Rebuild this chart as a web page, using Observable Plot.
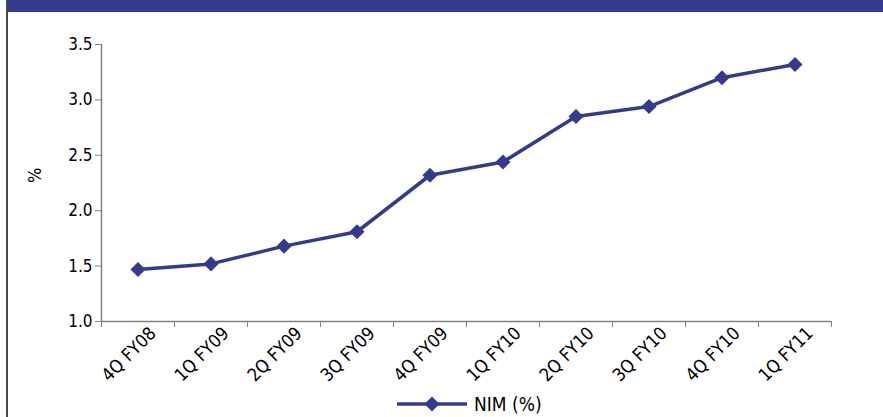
<!DOCTYPE html>
<html>
<head>
<meta charset="utf-8">
<script src="https://cdn.jsdelivr.net/npm/d3@7"></script>
<script src="https://cdn.jsdelivr.net/npm/@observablehq/plot@0.6"></script>
<style>
  html, body { margin: 0; padding: 0; background: #fff; }
  #wrap { position: relative; width: 883px; height: 417px; overflow: hidden;
          font-family: "DejaVu Sans Condensed", "Liberation Sans Narrow", sans-serif; }
  #band { margin-left: 6px; height: 12px; background: #343a8c; }
  #edge { position: absolute; left: 6px; top: 0; width: 1.5px; height: 417px; background: #4a4a4a; }
  #chart svg { display: block; }
  #legend { position: relative; height: 30px; }
  #legend .item { position: absolute; left: 396px; top: 6px; display: flex; align-items: center; gap: 6px;
                  font-size: 19px; color: #000; }
</style>
</head>
<body>
<div id="wrap">
  <div id="band"></div>
  <div id="chart"></div>
  <div id="legend"></div>
  <div id="edge"></div>
</div>
<script>
// Net interest margin by quarter
const quarters = ["4Q FY08", "1Q FY09", "2Q FY09", "3Q FY09", "4Q FY09",
                  "1Q FY10", "2Q FY10", "3Q FY10", "4Q FY10", "1Q FY11"];
const nim = [1.47, 1.52, 1.68, 1.81, 2.32, 2.44, 2.85, 2.94, 3.20, 3.32];
const yTicks = [1.0, 1.5, 2.0, 2.5, 3.0, 3.5];
const seriesName = "NIM (%)";
const yLabel = "%";

const lineColor = "#343b8e";
const axisColor = "#808080";

const rows = quarters.map((q, i) => ({i, q, v: nim[i]}));
const bounds = d3.range(quarters.length + 1).map(k => k - 0.5);

const chart = Plot.plot({
  width: 883,
  height: 375,
  marginTop: 32,
  marginBottom: 66,
  marginLeft: 101,
  marginRight: 52,
  style: {fontFamily: "'DejaVu Sans Condensed', 'Liberation Sans Narrow', sans-serif", fontSize: "17px", color: "#000"},
  x: {type: "linear", domain: [-0.5, quarters.length - 0.5]},
  y: {domain: [1.0, 3.5]},
  marks: [
    Plot.axisY({ticks: yTicks, tickFormat: d3.format(".1f"), tickSize: 6, tickPadding: 3, stroke: axisColor, label: null}),
    Plot.ruleX([-0.5], {y1: 1.0, y2: 3.5, stroke: axisColor, strokeWidth: 1.5}),
    Plot.ruleY([1.0], {stroke: axisColor, strokeWidth: 1.5}),
    Plot.axisX({ticks: bounds, tickFormat: () => "", tickSize: 6, stroke: axisColor, label: null}),
    Plot.axisX({ticks: d3.range(quarters.length), tickFormat: i => quarters[i], tickSize: 0,
                tickRotate: -45, dx: 15, dy: -3, fontSize: 18, label: null}),
    Plot.text([yLabel], {frameAnchor: "left", dx: -66, dy: 0, rotate: -90, fontSize: 18}),
    Plot.line(rows, {x: "i", y: "v", stroke: lineColor, strokeWidth: 3.5}),
    Plot.dot(rows, {x: "i", y: "v", symbol: "diamond2", r: 6.8, fill: lineColor, stroke: null})
  ]
});
document.getElementById("chart").appendChild(chart);

// Legend: swatch of the series line with its diamond marker
const legend = d3.select("#legend").append("div").attr("class", "item");
const sw = legend.append("svg").attr("width", 72).attr("height", 18);
sw.append("line").attr("x1", 1).attr("x2", 71).attr("y1", 9).attr("y2", 9)
  .attr("stroke", lineColor).attr("stroke-width", 3.5);
sw.append("path").attr("transform", "translate(36,9)")
  .attr("d", d3.symbol(d3.symbolDiamond2, Math.PI * 6.8 * 6.8)()).attr("fill", lineColor);
legend.append("span").text(seriesName);
</script>
</body>
</html>
